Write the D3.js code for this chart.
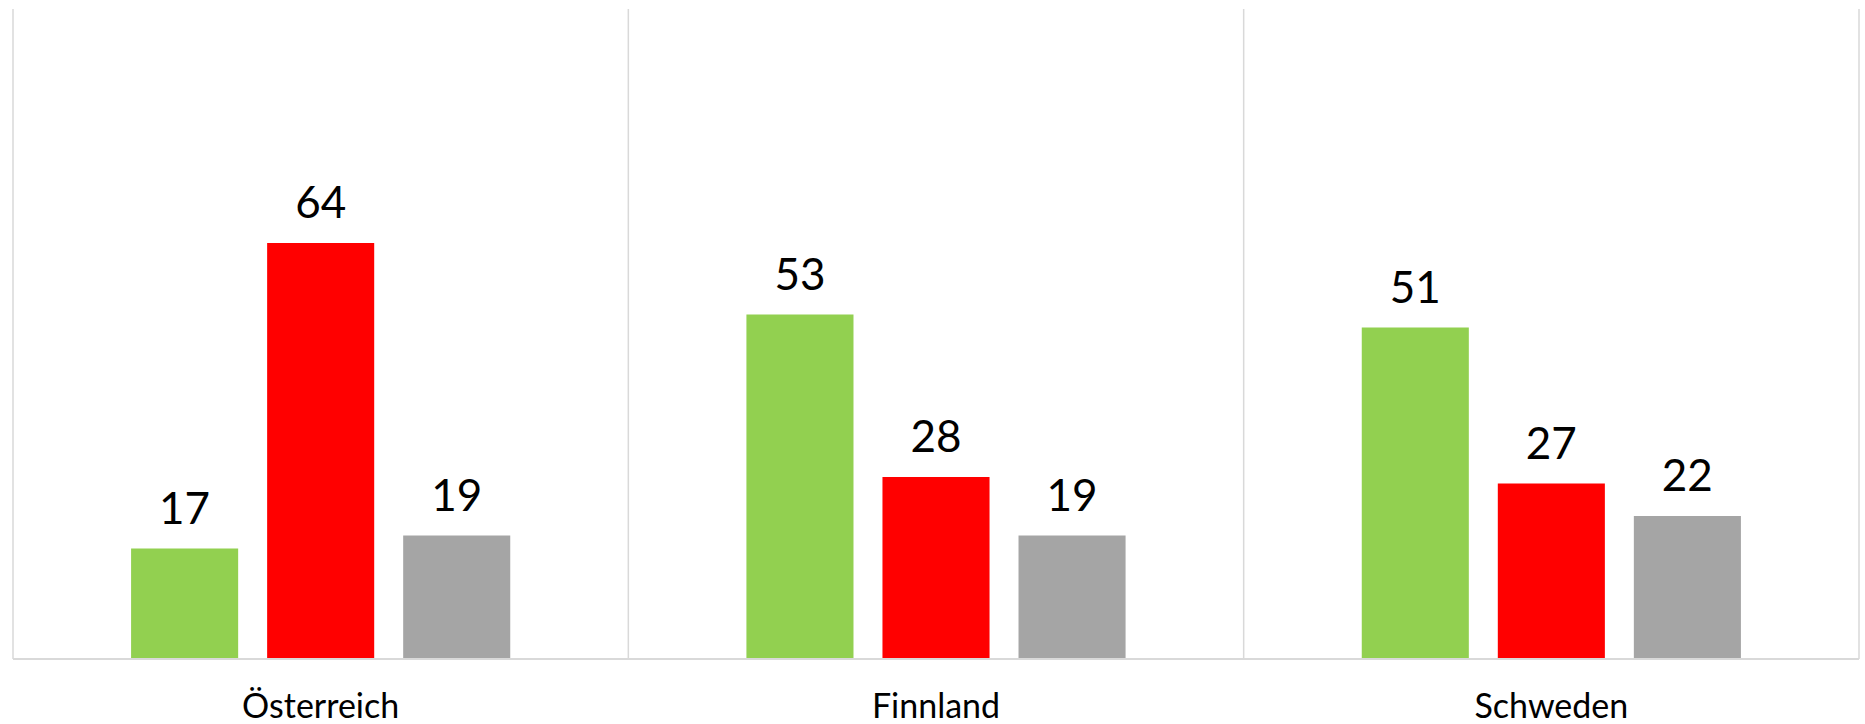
<!DOCTYPE html>
<html>
<head>
<meta charset="utf-8">
<script src="https://cdn.jsdelivr.net/npm/d3@7"></script>
<style>
  body { margin: 0; background: #fff; }
  svg { display: block; }
</style>
</head>
<body>
<div id="outer"></div>
<script>
// DATA //
const categories = ['Österreich', 'Finnland', 'Schweden'];
const seriesNames = ['gruen', 'rot', 'grau'];
const gruen = [17, 53, 51];
const rot = [64, 28, 27];
const grau = [19, 19, 22];
const seriesColors = ['#92d050', '#ff0000', '#a5a5a5'];
const yDomain = [0, 100];

// SIZING //
const width = 1865, height = 724;
const margin = {top: 9, left: 13, right: 6, bottom: 65};
const plotW = width - margin.left - margin.right;
const plotH = height - margin.top - margin.bottom;

const svg = d3.select('#outer').append('svg')
  .attr('width', width)
  .attr('height', height);

const g = svg.append('g')
  .attr('transform', `translate(${margin.left},${margin.top})`);

// SCALES //
const x0 = d3.scaleBand().domain(categories).range([0, plotW]).padding(0);
const x1 = d3.scaleBand().domain(seriesNames).range([0, x0.bandwidth()])
  .paddingInner(0.213).paddingOuter(0.868);
const y = d3.scaleLinear().domain(yDomain).range([plotH, 0]);

const rows = categories.map((c, i) => ({
  cat: c,
  vals: [gruen[i], rot[i], grau[i]].map((v, j) => ({key: seriesNames[j], v, color: seriesColors[j]}))
}));

// GRID (vertical category separators) //
g.selectAll('.sep')
  .data(categories.concat(['__end']))
  .join('line')
  .attr('class', 'sep')
  .attr('x1', (d, i) => i * x0.step())
  .attr('x2', (d, i) => i * x0.step())
  .attr('y1', 0)
  .attr('y2', plotH)
  .attr('stroke', '#d9d9d9')
  .attr('stroke-width', 1.5);

// BARS //
const groups = g.selectAll('.grp')
  .data(rows)
  .join('g')
  .attr('class', 'grp')
  .attr('transform', d => `translate(${x0(d.cat)},0)`);

groups.selectAll('rect')
  .data(d => d.vals)
  .join('rect')
  .attr('x', d => x1(d.key))
  .attr('width', x1.bandwidth())
  .attr('y', d => y(d.v))
  .attr('height', d => y(0) - y(d.v))
  .attr('fill', d => d.color);

groups.selectAll('text.val')
  .data(d => d.vals)
  .join('text')
  .attr('class', 'val')
  .attr('x', d => x1(d.key) + x1.bandwidth() / 2)
  .attr('y', d => y(d.v) - 25)
  .attr('text-anchor', 'middle')
  .attr('font-family', 'Lato, "Open Sans", sans-serif')
  .attr('font-size', 44)
  .attr('fill', '#000')
  .text(d => d.v);

// BASELINE //
g.append('line')
  .attr('x1', 0).attr('x2', plotW)
  .attr('y1', y(0)).attr('y2', y(0))
  .attr('stroke', '#d9d9d9')
  .attr('stroke-width', 2);

// CATEGORY AXIS LABELS //
const xAxis = d3.axisBottom(x0).tickSize(0).tickPadding(0);
const axisG = g.append('g')
  .attr('transform', `translate(0,${plotH})`)
  .call(xAxis);
axisG.select('.domain').remove();
axisG.selectAll('text')
  .attr('dy', null)
  .attr('y', 59)
  .attr('font-family', 'Lato, "Open Sans", sans-serif')
  .attr('font-size', 34)
  .attr('fill', '#000');
</script>
</body>
</html>
